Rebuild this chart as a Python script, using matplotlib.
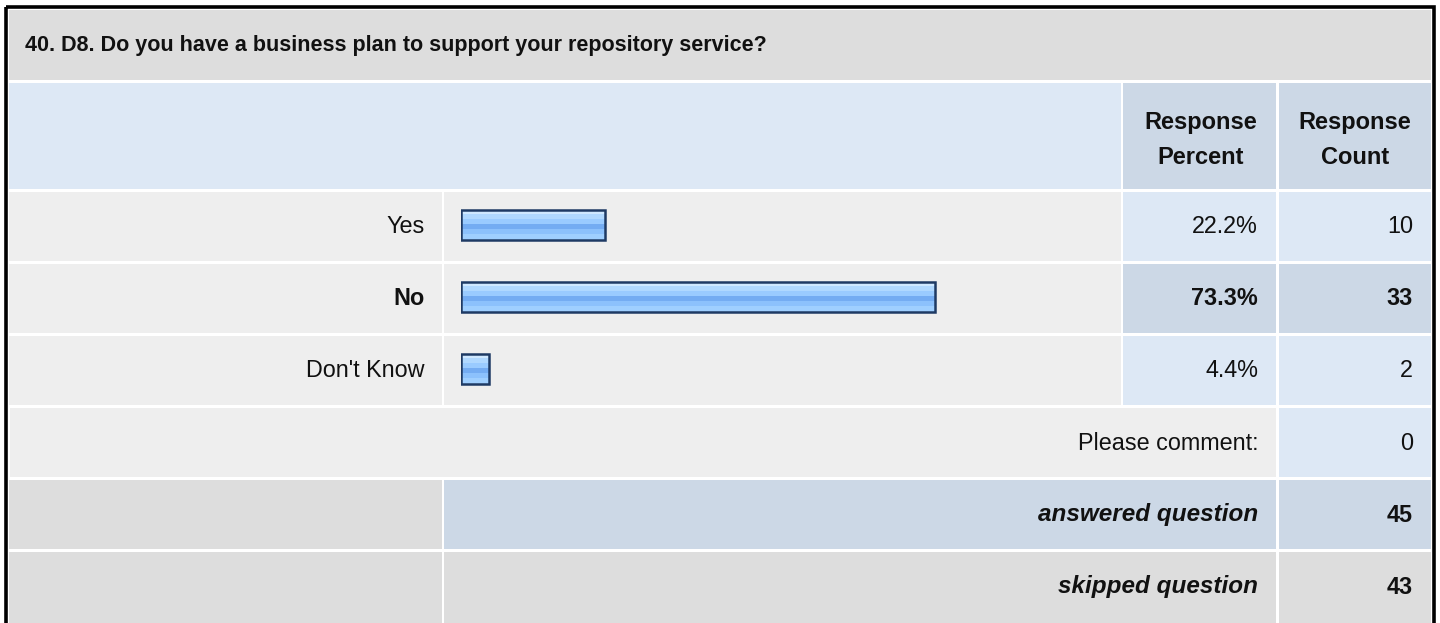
import matplotlib.pyplot as plt
from matplotlib.patches import Rectangle

question = "40. D8. Do you have a business plan to support your repository service?"
categories = ["Yes", "No", "Don't Know"]
percents = [22.2, 73.3, 4.4]
counts = [10, 33, 2]
bold_rows = [False, True, False]
comment_label = "Please comment:"
comment_count = 0
answered_count = 45
skipped_count = 43

W, H = 1440, 623
FONT = "Liberation Sans"
GREY = "#dddddd"
LIGHT = "#eeeeee"
BLUE = "#dde8f5"
BLUE2 = "#ccd8e6"
BODY = 16.8

fig = plt.figure(figsize=(W / 100, H / 100), dpi=100)
ax = fig.add_axes([0, 0, 1, 1])
ax.set_xlim(0, W)
ax.set_ylim(H, 0)
ax.axis("off")


def cell(x0, x1, y0, y1, color):
    ax.add_patch(Rectangle((x0, y0), x1 - x0, y1 - y0, facecolor=color, edgecolor="none"))


def txt(x, y, s, ha="right", weight="normal", style="normal", size=BODY):
    ax.text(x, y, s, ha=ha, va="center", family=FONT, fontsize=size,
            fontweight=weight, fontstyle=style, color="#111111")


# column edges (pixels)
cA0, cA1 = 9, 442
cB0, cB1 = 444, 1121
cC0, cC1 = 1123, 1276
cD0, cD1 = 1279, 1431

# title row
cell(cA0, cD1, 10, 80, GREY)
txt(25, 46, question, ha="left", weight="bold", size=15.5)

# header row
cell(cA0, cB1, 83, 189, BLUE)
cell(cC0, cC1, 83, 189, BLUE2)
cell(cD0, cD1, 83, 189, BLUE2)
txt((cC0 + cC1) / 2 + 1, 122, "Response", ha="center", weight="bold", size=17)
txt((cC0 + cC1) / 2 + 1, 157, "Percent", ha="center", weight="bold", size=17)
txt((cD0 + cD1) / 2, 122, "Response", ha="center", weight="bold", size=17)
txt((cD0 + cD1) / 2, 157, "Count", ha="center", weight="bold", size=17)

# answer rows
row_top = 192
row_step = 72
for i, (cat, p, n, b) in enumerate(zip(categories, percents, counts, bold_rows)):
    y0 = row_top + i * row_step
    y1 = y0 + row_step - 3
    yc = (y0 + y1) / 2
    right_col = BLUE2 if b else BLUE
    w = "bold" if b else "normal"
    cell(cA0, cA1, y0, y1, LIGHT)
    cell(cB0, cB1, y0, y1, LIGHT)
    cell(cC0, cC1, y0, y1, right_col)
    cell(cD0, cD1, y0, y1, right_col)
    txt(425, yc, cat, weight=w)
    txt(1258, yc, f"{p:.1f}%", weight=w)
    txt(1413, yc, str(n), weight=w)

# comment row
y0 = row_top + 3 * row_step
cell(cA0 + 1, cC1, y0, y0 + 69, LIGHT)
cell(cD0, cD1, y0, y0 + 69, BLUE)
txt(1258, y0 + 35, comment_label)
txt(1413, y0 + 35, str(comment_count))

# answered row
y0 = row_top + 4 * row_step
cell(cA0, cA1, y0, y0 + 69, GREY)
cell(cB0, cC1, y0, y0 + 69, BLUE2)
cell(cD0, cD1, y0, y0 + 69, BLUE2)
txt(1258, y0 + 35, "answered question", weight="bold", style="italic", size=17.5)
txt(1413, y0 + 35, str(answered_count), weight="bold")

# skipped row
y0 = row_top + 5 * row_step
cell(cA0, cA1, y0, H + 5, GREY)
cell(cB0, cC1, y0, H + 5, GREY)
cell(cD0, cD1, y0, H + 5, GREY)
txt(1258, y0 + 35, "skipped question", weight="bold", style="italic", size=17.5)
txt(1413, y0 + 35, str(skipped_count), weight="bold")

# outer frame
ax.add_patch(Rectangle((5.5, 6.5), 1428.5, H + 20, facecolor="none",
                       edgecolor="black", linewidth=2.6))

# bars: one axes over the bar column, 0-100 %
ax_bar = fig.add_axes([461 / W, (H - 405) / H, 647 / W, 216 / H])
ax_bar.set_xlim(0, 100)
ax_bar.set_ylim(2.5, -0.5)
ax_bar.axis("off")
ax_bar.patch.set_alpha(0)

ypos = list(range(len(categories)))
bar_h = 0.41
stripes = [
    (0.00, 0.12, "#cfe8ff"),
    (0.12, 0.28, "#b0d8ff"),
    (0.28, 0.48, "#9acbff"),
    (0.48, 0.64, "#74acf2"),
    (0.64, 0.82, "#8cc1fc"),
    (0.82, 1.00, "#9fcfff"),
]
for f0, f1, col in stripes:
    ax_bar.barh([y - bar_h / 2 + f0 * bar_h for y in ypos], percents,
                height=(f1 - f0) * bar_h, align="edge", color=col, linewidth=0)
ax_bar.barh(ypos, percents, height=bar_h, fill=False,
            edgecolor="#1e3a64", linewidth=1.8)

fig.savefig("out.png", dpi=100)
